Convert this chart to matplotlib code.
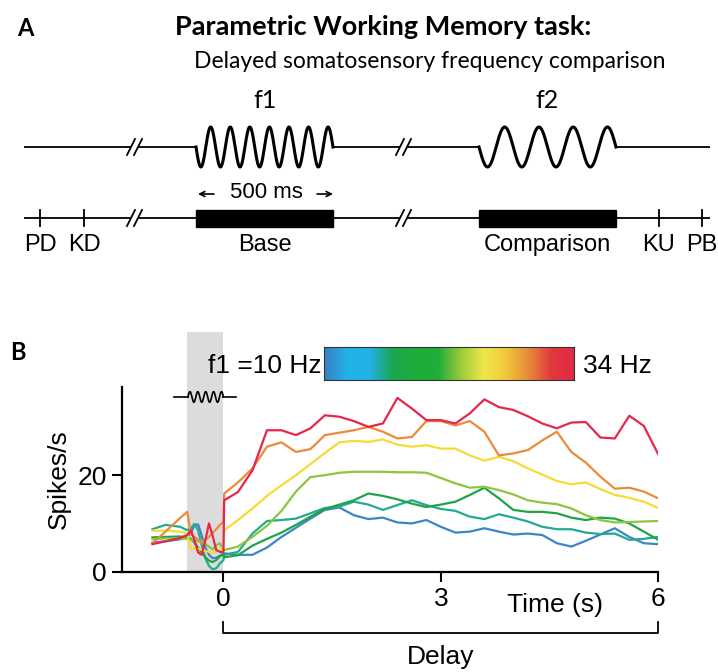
import numpy as np
import matplotlib.pyplot as plt
import matplotlib.transforms as mtransforms
from matplotlib.colors import LinearSegmentedColormap
from matplotlib.patches import Rectangle

# ---- panel B data: firing rate (spikes/s) vs time (s), one curve per f1 ----
time_s = [-0.98, -0.8, -0.6, -0.5,
          -0.45, -0.4, -0.35, -0.3, -0.25, -0.2, -0.15, -0.1, -0.05, 0.0,
          0.01, 0.2, 0.4, 0.6, 0.8, 1.0, 1.2, 1.4, 1.6, 1.8, 2.0, 2.2, 2.4, 2.6,
          2.8, 3.0, 3.2, 3.4, 3.6, 3.8, 4.0, 4.2, 4.4, 4.6, 4.8, 5.0, 5.2, 5.4,
          5.6, 5.8, 6.0]

rate_blue = [6.0, 6.3, 6.7, 7.2,
             8.0, 9.7, 9.8, 7.5, 5.0, 3.5, 2.8, 2.9, 3.3, 3.8,
             3.8, 3.5, 3.5, 5.0, 7.2, 9.1, 11.0, 12.8, 13.3, 11.7, 10.9, 11.2, 10.2, 10.0,
             10.7, 9.3, 8.1, 8.3, 9.0, 8.3, 7.7, 7.9, 7.6, 5.9, 5.2, 6.4, 7.7, 9.0,
             7.2, 5.9, 5.7]
rate_teal = [8.8, 9.7, 9.3, 8.6,
             9.0, 9.9, 8.6, 5.5, 2.8, 1.2, 0.5, 0.7, 1.7, 2.4,
             3.5, 4.1, 7.9, 10.5, 10.7, 11.0, 12.1, 13.2, 13.5, 14.5, 13.9, 12.8, 13.8, 14.8,
             13.8, 13.0, 12.6, 11.4, 10.9, 11.9, 11.2, 10.4, 9.3, 8.8, 8.8, 8.1, 7.8, 7.9,
             6.6, 6.8, 7.2]
rate_green = [7.1, 7.2, 7.3, 7.1,
              6.8, 6.0, 5.0, 4.0, 3.0, 2.3, 2.0, 2.4, 3.2, 3.6,
              3.0, 3.4, 5.4, 6.8, 8.1, 9.7, 11.4, 13.0, 13.9, 14.8, 16.2, 15.7, 15.0, 14.1,
              13.4, 13.9, 14.5, 15.9, 17.4, 15.2, 12.8, 12.4, 12.4, 12.1, 11.2, 10.7, 11.2, 11.0,
              10.0, 8.3, 6.6]
rate_lime = [6.7, 6.9, 6.9, 6.8,
             6.6, 6.4, 6.3, 6.1, 5.8, 5.2, 4.6, 5.5, 5.9, 4.5,
             4.5, 5.2, 7.2, 9.5, 12.6, 16.6, 19.6, 20.0, 20.5, 20.7, 20.7, 20.7, 20.6, 20.6,
             20.5, 19.4, 18.3, 17.4, 17.6, 16.9, 16.0, 14.8, 14.3, 14.0, 13.1, 11.7, 10.7, 10.2,
             10.3, 10.4, 10.5]
rate_yellow = [8.5, 8.5, 8.3, 7.9,
               4.6, 4.9, 4.8, 4.5, 4.3, 4.1, 3.9, 4.1, 4.6, 5.0,
               8.6, 10.7, 13.1, 15.7, 17.9, 20.0, 22.3, 24.6, 26.8, 27.1, 26.9, 27.4, 26.3, 25.9,
               26.2, 25.5, 25.5, 24.1, 23.0, 23.8, 22.9, 21.4, 20.1, 18.8, 18.1, 18.5, 17.1, 15.9,
               15.3, 14.5, 13.2]
rate_orange = [5.9, 8.3, 11.1, 12.4,
               7.8, 7.2, 6.6, 6.2, 6.6, 7.2, 8.0, 8.8, 9.7, 10.3,
               16.2, 18.5, 21.4, 25.9, 26.8, 24.8, 25.4, 28.3, 28.8, 29.3, 30.0, 29.0, 27.6, 27.9,
               31.2, 31.2, 30.3, 31.2, 29.0, 24.1, 24.5, 25.2, 27.2, 29.0, 24.8, 22.6, 19.7, 17.2,
               17.4, 16.6, 15.2]
rate_red = [5.7, 6.3, 7.0, 7.6,
            8.6, 6.5, 4.0, 3.5, 6.5, 10.0, 7.5, 4.5, 4.1, 4.1,
            14.8, 16.5, 21.0, 29.3, 29.3, 28.3, 29.7, 32.4, 32.1, 31.2, 30.0, 30.7, 36.0, 33.8,
            31.4, 31.4, 30.7, 32.8, 35.7, 34.1, 33.5, 32.2, 30.7, 29.7, 30.9, 31.0, 27.8, 27.6,
            32.3, 30.2, 24.3]

curves = [rate_blue, rate_teal, rate_green, rate_lime, rate_yellow, rate_orange, rate_red]
curve_colors = ["#3a86c8", "#22aa92", "#1fa348", "#8cc63f", "#f5dc34", "#ec8a3a", "#e6264a"]

cbar_colors = ["#3a7fc0", "#22b2e8", "#22b2e6", "#1aa650", "#1fad3a", "#1fad3a",
               "#9cca3a", "#eee84a", "#f2c83a", "#e8883a", "#e0383e", "#e02a44"]

# ---- panel A schematic ----
stim_names = ["f1", "f2"]
stim_spans = [(196, 333), (479, 616)]
stim_cycles = [7, 4]
bar_labels = ["Base", "Comparison"]
event_x = [40, 84, 659, 702]
event_labels = ["PD", "KD", "KU", "PB"]
break_x = [135, 404]

fig = plt.figure(figsize=(7.18, 6.72), dpi=100)

# overlay in pixel coordinates for the schematic
ov = fig.add_axes([0, 0, 1, 1])
ov.set_xlim(0, 718)
ov.set_ylim(672, 0)
ov.axis("off")

title_font = "Lato"
sans = "Liberation Sans"

ov.text(25, 28, "A", fontsize=17, fontweight="bold", family=title_font, ha="center", va="center")
ov.text(383, 27, "Parametric Working Memory task:", fontsize=19.5, fontweight="bold",
        family=title_font, ha="center", va="center")
ov.text(430, 62, "Delayed somatosensory frequency comparison", fontsize=16.5,
        family=title_font, ha="center", va="center")
ov.text(18, 352, "B", fontsize=17, fontweight="bold", family=title_font, ha="center", va="center")


def line_with_breaks(y, x0, x1, skip):
    # draws a horizontal line from x0 to x1, leaving out the intervals in skip
    pts = [x0]
    for a, b in skip:
        pts += [a, b]
    pts.append(x1)
    for i in range(0, len(pts), 2):
        ov.plot([pts[i], pts[i + 1]], [y, y], color="k", lw=1.3, solid_capstyle="butt")


def draw_breaks(y):
    for c in break_x:
        for off in (-4, 3):
            ov.plot([c + off - 4, c + off + 4], [y + 8, y - 8], color="k", lw=1.3)


# stimulus trace
y_stim = 147
skips = [(b - 4, b + 3) for b in break_x] + list(stim_spans)
skips.sort()
line_with_breaks(y_stim, 24, 710, skips)
draw_breaks(y_stim)
for (x0, x1), n, name in zip(stim_spans, stim_cycles, stim_names):
    xs = np.linspace(x0, x1, 400)
    ov.plot(xs, y_stim + 20 * np.sin(2 * np.pi * n * (xs - x0) / (x1 - x0)), color="k", lw=2.2)
    ov.text((x0 + x1) / 2, 101, name, fontsize=18, family=title_font, ha="center", va="center")

# event timeline
y_tl = 218
skips = sorted([(b - 4, b + 3) for b in break_x])
line_with_breaks(y_tl, 24, 710, skips)
draw_breaks(y_tl)
for (x0, x1), lab in zip(stim_spans, bar_labels):
    ov.add_patch(Rectangle((x0, y_tl - 8.5), x1 - x0, 17, color="k"))
    ov.text((x0 + x1) / 2, 245, lab, fontsize=17, family=sans, ha="center", va="center")
for x, lab in zip(event_x, event_labels):
    ov.plot([x, x], [y_tl - 8, y_tl + 8], color="k", lw=1.3)
    ov.text(x, 245, lab, fontsize=17, family=sans, ha="center", va="center")
ov.text(266, 193, "500 ms", fontsize=16, family=sans, ha="center", va="center")
arrow = dict(arrowstyle="->", lw=1.2, color="k", shrinkA=0, shrinkB=0, mutation_scale=9)
ov.annotate("", xy=(198, 194), xytext=(214, 194), arrowprops=arrow)
ov.annotate("", xy=(333, 194), xytext=(317, 194), arrowprops=arrow)

# ---- panel B ----
ax = fig.add_axes([122 / 718, 1 - 571.7 / 672, (658.3 - 122) / 718, 184.4 / 672])
ax.set_xlim(-1.4, 6)
ax.set_ylim(0, 38.2)
ax.patch.set_alpha(0)
for s in ("top", "right"):
    ax.spines[s].set_visible(False)
for s in ("left", "bottom"):
    ax.spines[s].set_linewidth(1.6)

ax.axvspan(-0.5, 0, ymin=0, ymax=49.6 / 38.2, color="#dcdcdc", lw=0, clip_on=False, zorder=0)

for rates, col in zip(curves, curve_colors):
    ax.plot(time_s, rates, color=col, lw=1.6, solid_joinstyle="round")

# little stimulus symbol above the grey band
ws = np.linspace(-0.49, 0, 200)
ax.plot([-0.68, -0.49], [36.2, 36.2], color="k", lw=1.2, clip_on=False)
ax.plot([0, 0.17], [36.2, 36.2], color="k", lw=1.2, clip_on=False)
ax.plot(ws, 36.2 + 1.1 * np.sin(2 * np.pi * 4.5 * (ws + 0.49) / 0.49), color="k", lw=1.2, clip_on=False)

ax.set_xticks([0, 3, 6])
ax.set_yticks([0, 20])
ax.tick_params(length=7, width=1.5, labelsize=19, pad=4)
for lab in ax.get_xticklabels() + ax.get_yticklabels():
    lab.set_family(sans)
ax.set_ylabel("Spikes/s", fontsize=19, family=sans, labelpad=5)

trans = mtransforms.blended_transform_factory(ax.transData, ax.transAxes)
ax.text(4.57, -0.18, "Time (s)", fontsize=19, family=sans, transform=trans, ha="center", va="center")
ax.plot([0, 0, 6, 6], [-0.273, -0.332, -0.332, -0.273], color="k", lw=1.3,
        transform=trans, clip_on=False)
ax.text(3.0, -0.463, "Delay", fontsize=19, family=sans, transform=trans, ha="center", va="center")

# colour scale for f1
cmap = LinearSegmentedColormap.from_list("f1", cbar_colors)
cax = fig.add_axes([323.7 / 718, 1 - 380 / 672, (574 - 323.7) / 718, 33.3 / 672])
cax.imshow(np.linspace(0, 1, 256)[None, :], aspect="auto", cmap=cmap)
cax.set_xticks([])
cax.set_yticks([])
for s in cax.spines.values():
    s.set_linewidth(0.8)
    s.set_color("#333333")
fig.text(322 / 718, 1 - 366 / 672, "f1 =10 Hz", fontsize=19, family=sans, ha="right", va="center")
fig.text(583 / 718, 1 - 366 / 672, "34 Hz", fontsize=19, family=sans, ha="left", va="center")

fig.savefig("out.png", dpi=100)
